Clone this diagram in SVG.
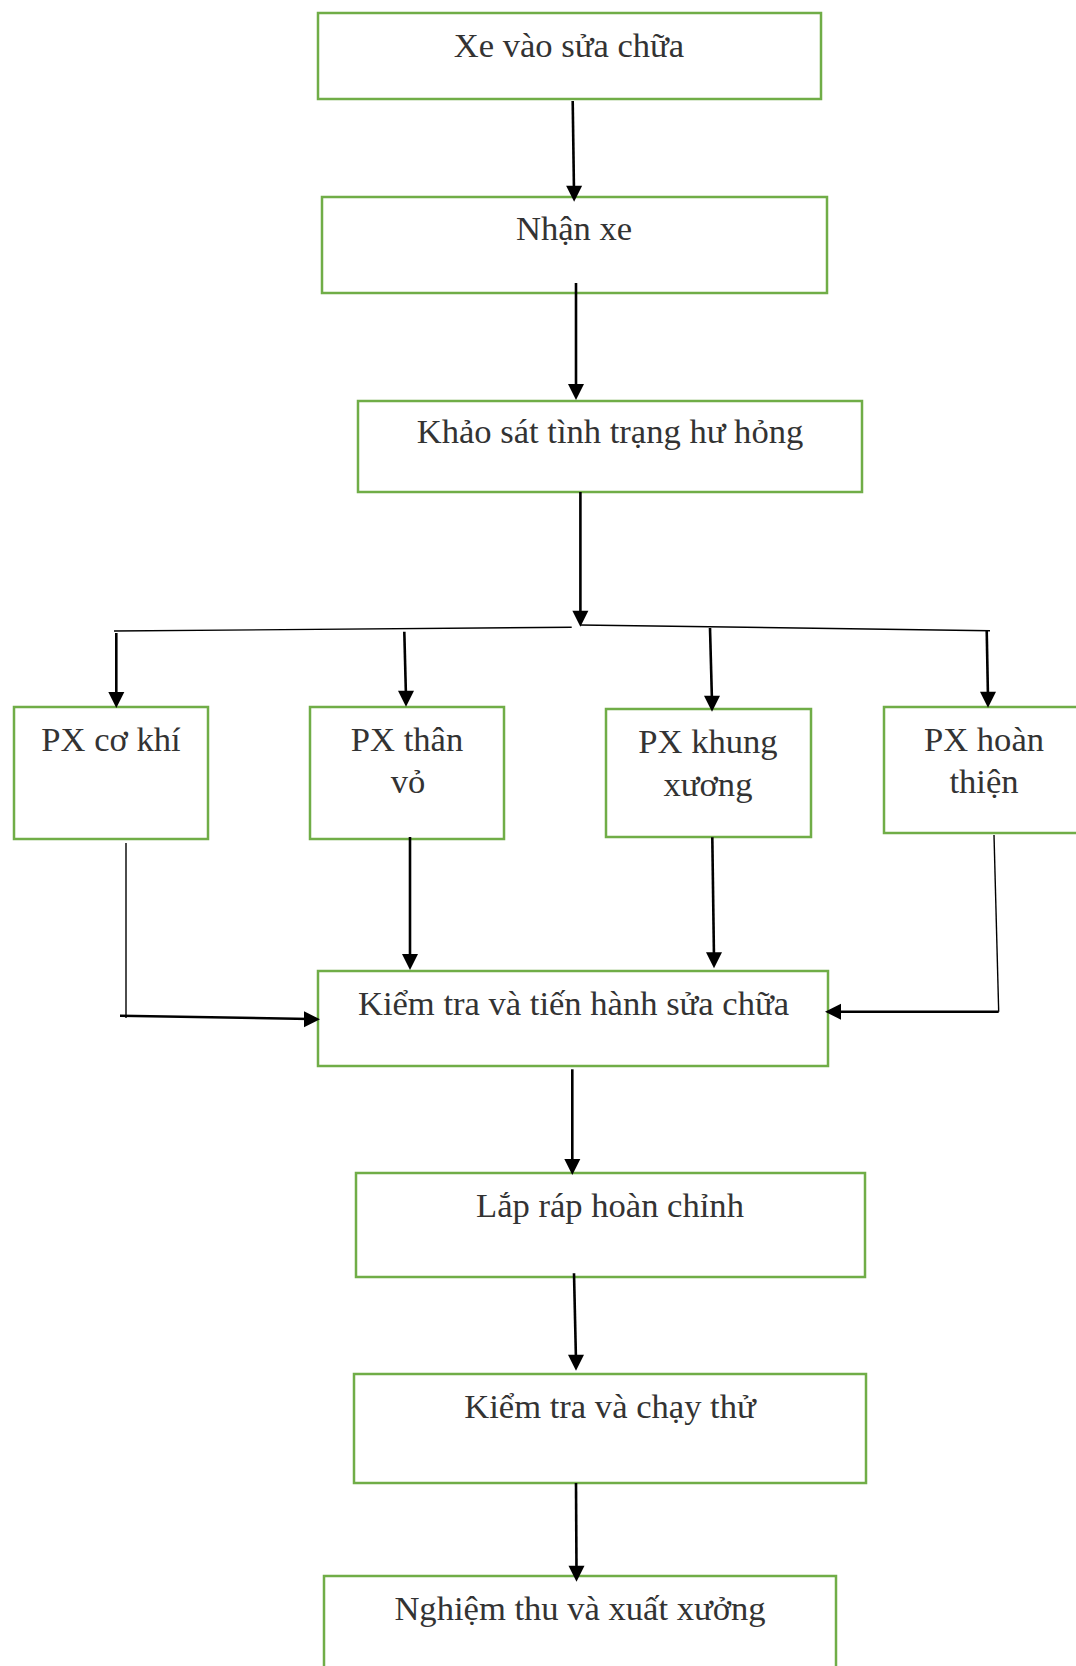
<svg xmlns="http://www.w3.org/2000/svg" width="1076" height="1666" viewBox="0 0 1076 1666">
  <style>
    .box { fill: #ffffff; stroke: #70ad47; stroke-width: 2.5; }
    .lbl { font-family: "Liberation Serif", "Times New Roman", serif; font-size: 34.6px; fill: #333333; text-anchor: middle; }
    .ln { stroke: #000000; stroke-width: 2.6; fill: none; }
    .thin { stroke: #000000; stroke-width: 1.4; fill: none; }
    .head { fill: #000000; stroke: none; }
  </style>
  <defs>
    <!-- downward arrowhead, tip at origin -->
    <path id="dn" d="M-8,-16 L8,-16 L0,0 Z"/>
  </defs>
  <rect width="1076" height="1666" fill="#ffffff"/>

  <g id="n-xe-vao">
    <rect class="box" x="318" y="13" width="503" height="86"/>
    <text class="lbl" x="569" y="57">Xe vào sửa chữa</text>
  </g>
  <g id="n-nhan-xe">
    <rect class="box" x="322" y="197" width="505" height="96"/>
    <text class="lbl" x="574" y="240">Nhận xe</text>
  </g>
  <g id="n-khao-sat">
    <rect class="box" x="358" y="401" width="504" height="91"/>
    <text class="lbl" x="610" y="443">Khảo sát tình trạng hư hỏng</text>
  </g>
  <g id="n-co-khi">
    <rect class="box" x="14" y="707" width="194" height="132"/>
    <text class="lbl" x="111" y="750.7">PX cơ khí</text>
  </g>
  <g id="n-than-vo">
    <rect class="box" x="310" y="707" width="194" height="132"/>
    <text class="lbl" x="407" y="750.7">PX thân</text>
    <text class="lbl" x="408" y="793.3">vỏ</text>
  </g>
  <g id="n-khung-xuong">
    <rect class="box" x="606" y="709" width="205" height="128"/>
    <text class="lbl" x="708" y="753.3">PX khung</text>
    <text class="lbl" x="708" y="796">xương</text>
  </g>
  <g id="n-hoan-thien">
    <rect class="box" x="884" y="707" width="200" height="126"/>
    <text class="lbl" x="984" y="750.7">PX hoàn</text>
    <text class="lbl" x="984" y="793.3">thiện</text>
  </g>
  <g id="n-sua-chua">
    <rect class="box" x="318" y="971" width="510" height="95"/>
    <text class="lbl" x="573.5" y="1015">Kiểm tra và tiến hành sửa chữa</text>
  </g>
  <g id="n-lap-rap">
    <rect class="box" x="356" y="1173" width="509" height="104"/>
    <text class="lbl" x="610" y="1216.7">Lắp ráp hoàn chỉnh</text>
  </g>
  <g id="n-chay-thu">
    <rect class="box" x="354" y="1374" width="512" height="109"/>
    <text class="lbl" x="610" y="1418.3">Kiểm tra và chạy thử</text>
  </g>
  <g id="n-nghiem-thu">
    <rect class="box" x="324" y="1576" width="512" height="120"/>
    <text class="lbl" x="580" y="1619.5">Nghiệm thu và xuất xưởng</text>
  </g>

  <!-- connectors, drawn over the box borders -->
  <g id="connectors">
    <line class="ln" x1="572.7" y1="101" x2="574" y2="192"/>
    <use class="head" href="#dn" x="574.1" y="201.7"/>
    <line class="ln" x1="576" y1="283" x2="576" y2="390"/>
    <use class="head" href="#dn" x="576" y="400"/>
    <line class="ln" x1="580.4" y1="492" x2="580.4" y2="617"/>
    <use class="head" href="#dn" x="580.4" y="626.7"/>
    <!-- distribution bar -->
    <line class="thin" x1="114" y1="631" x2="571.7" y2="627.3"/>
    <line class="thin" x1="580" y1="625" x2="990" y2="630.7"/>
    <line class="ln" x1="116.3" y1="633" x2="116.3" y2="698"/>
    <use class="head" href="#dn" x="116.3" y="708"/>
    <line class="ln" x1="404.3" y1="631.7" x2="406" y2="697"/>
    <use class="head" href="#dn" x="406" y="706.7"/>
    <line class="ln" x1="710" y1="628" x2="712" y2="702"/>
    <use class="head" href="#dn" x="712" y="711.7"/>
    <line class="ln" x1="986.7" y1="630" x2="988" y2="698"/>
    <use class="head" href="#dn" x="988" y="707.7"/>
    <!-- workshop outputs -->
    <line class="thin" x1="126" y1="843" x2="126" y2="1018"/>
    <line class="ln" x1="120" y1="1015.7" x2="310" y2="1019"/>
    <polygon class="head" points="320,1019.3 304,1011.3 304,1027.3"/>
    <line class="ln" x1="410" y1="837" x2="410" y2="960"/>
    <use class="head" href="#dn" x="410" y="970"/>
    <line class="ln" x1="712.3" y1="837.3" x2="714" y2="958"/>
    <use class="head" href="#dn" x="714" y="968.3"/>
    <line class="thin" x1="994" y1="835" x2="998.7" y2="1011.7"/>
    <line class="ln" x1="998.7" y1="1011.7" x2="835" y2="1011.7"/>
    <polygon class="head" points="825,1011.7 841,1003.7 841,1019.7"/>
    <!-- lower chain -->
    <line class="ln" x1="572.3" y1="1069.3" x2="572.3" y2="1165"/>
    <use class="head" href="#dn" x="572.3" y="1175"/>
    <line class="ln" x1="574" y1="1273.3" x2="576" y2="1361"/>
    <use class="head" href="#dn" x="576" y="1370.7"/>
    <line class="ln" x1="576" y1="1483" x2="576.5" y2="1572"/>
    <use class="head" href="#dn" x="576.5" y="1581.7"/>
  </g>
</svg>
